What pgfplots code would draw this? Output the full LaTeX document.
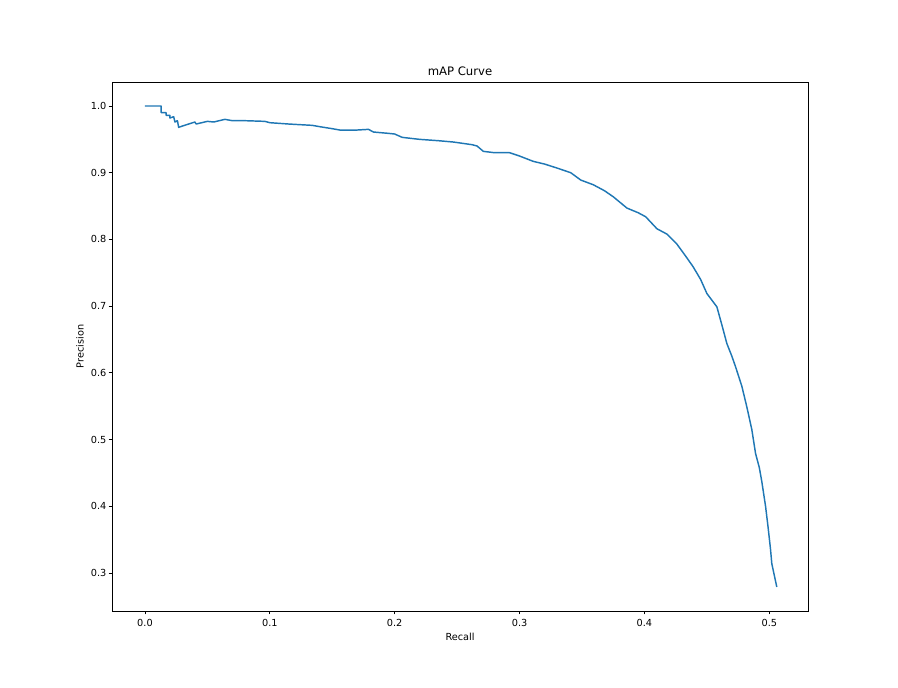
\documentclass[border=0pt]{standalone}
\usepackage{pgfplots}
\pgfplotsset{compat=1.18}
\usepackage{fontspec}
\setmainfont{DejaVu Sans}
\definecolor{tabblue}{HTML}{1F77B4}
\pgfplotstableread{
r p
0.000 1.000
0.013 1.000
0.013 0.990
0.017 0.990
0.017 0.986
0.020 0.986
0.020 0.982
0.023 0.984
0.024 0.976
0.026 0.978
0.027 0.968
0.030 0.970
0.035 0.973
0.040 0.976
0.041 0.973
0.050 0.977
0.055 0.976
0.064 0.980
0.070 0.978
0.080 0.978
0.096 0.977
0.100 0.975
0.115 0.973
0.134 0.971
0.140 0.969
0.150 0.966
0.156 0.964
0.170 0.964
0.179 0.965
0.183 0.961
0.195 0.959
0.200 0.958
0.206 0.953
0.220 0.950
0.235 0.948
0.247 0.946
0.262 0.942
0.266 0.940
0.271 0.932
0.280 0.930
0.292 0.930
0.300 0.925
0.311 0.917
0.320 0.913
0.330 0.907
0.341 0.900
0.349 0.889
0.359 0.882
0.368 0.873
0.375 0.864
0.386 0.847
0.395 0.840
0.401 0.834
0.410 0.816
0.418 0.808
0.426 0.793
0.433 0.775
0.439 0.759
0.445 0.740
0.450 0.719
0.458 0.699
0.462 0.672
0.466 0.644
0.470 0.625
0.473 0.609
0.478 0.580
0.482 0.549
0.486 0.515
0.489 0.479
0.492 0.458
0.494 0.437
0.497 0.400
0.499 0.369
0.501 0.335
0.502 0.314
0.506 0.279
}\curve
\begin{document}
\begin{tikzpicture}
\path (-80.64pt,-54.72pt) rectangle (565.92pt,439.92pt);
\begin{axis}[
  at={(0,0)}, anchor=south west,
  scale only axis, width=501.12pt, height=380.88pt,
  xmin=-0.0264, xmax=0.531, ymin=0.243, ymax=1.036,
  xtick={0,0.1,0.2,0.3,0.4,0.5},
  ytick={0.3,0.4,0.5,0.6,0.7,0.8,0.9,1.0},
  tick pos=left, tick align=outside,
  major tick length=2.5pt,
  every tick/.style={black, line width=0.56pt},
  axis line style={line width=0.56pt},
  xticklabel style={font=\fontsize{7}{8.4}\selectfont},
  yticklabel style={font=\fontsize{7}{8.4}\selectfont, xshift=2pt},
  /pgf/number format/.cd, fixed, fixed zerofill, precision=1, assume math mode=true,
  /pgfplots/.cd,
  title={mAP Curve},
  title style={font=\fontsize{8.4}{10}\selectfont, at={(axis description cs:0.5,1.0038)}, anchor=center},
  xlabel={Recall}, ylabel={Precision},
  label style={font=\fontsize{7}{8.4}\selectfont},
  xlabel style={at={(axis description cs:0.5,-0.0491)}, anchor=center},
  ylabel style={at={(axis description cs:-0.0460,0.5)}, anchor=center},
]
\addplot[tabblue, line width=1.05pt, line join=round] table[x=r,y=p] {\curve};
\end{axis}
\end{tikzpicture}
\end{document}
